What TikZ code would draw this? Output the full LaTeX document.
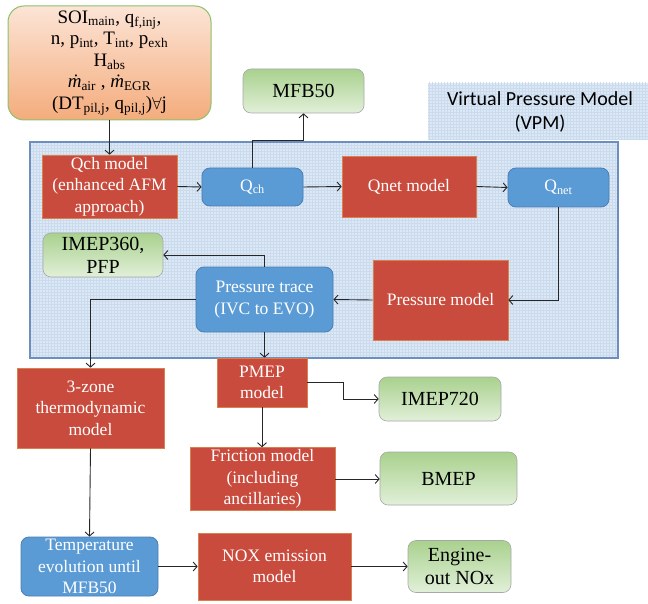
\documentclass[tikz,border=0pt]{standalone}
\usepackage{fontspec}
\setmainfont{Liberation Serif}
\newfontfamily\labelsans{Carlito}
\usetikzlibrary{arrows.meta,patterns}

\definecolor{redbox}{HTML}{C84B3D}
\definecolor{redline}{HTML}{D9804F}
\definecolor{bluebox}{HTML}{5B9BD5}
\definecolor{blueline}{HTML}{4A7EB5}
\definecolor{greentop}{HTML}{A9D18E}
\definecolor{greenbot}{HTML}{E2F0D9}
\definecolor{greenline}{HTML}{A8A8A8}
\definecolor{peachtop}{HTML}{FCE4D6}
\definecolor{peachbot}{HTML}{F4AC7C}
\definecolor{inputline}{HTML}{8CC06A}
\definecolor{vpmfill}{HTML}{DCE8F5}
\definecolor{vpmgrid}{HTML}{CADBEE}
\definecolor{vpmline}{HTML}{6D8FBD}
\definecolor{wire}{HTML}{262626}

\tikzset{
  model/.style={draw=redline, line width=0.6pt, fill=redbox, text=white,
    align=center, inner sep=2pt, font=\rmfamily\fontsize{17.5}{21.5}\selectfont},
  signal/.style={draw=blueline, line width=0.8pt, fill=bluebox, text=white,
    rounded corners=8pt, align=center, inner sep=2pt,
    font=\rmfamily\fontsize{17.5}{21.5}\selectfont},
  output/.style={draw=greenline, line width=0.6pt, top color=greentop,
    bottom color=greenbot, rounded corners=8pt, align=center, inner sep=2pt,
    font=\rmfamily\fontsize{20}{23}\selectfont},
  inputs/.style={draw=inputline, line width=1pt, top color=peachtop,
    bottom color=peachbot, rounded corners=16pt, align=center, inner sep=2pt,
    font=\rmfamily\fontsize{19}{21.6}\selectfont},
  flow/.style={draw=wire, line width=0.9pt, -{Straight Barb[length=4pt,width=9pt]}},
}

\newcommand{\sub}[1]{\textsubscript{#1}}

\begin{document}
\begin{tikzpicture}[x=1pt, y=-1pt]
\useasboundingbox (0,0) rectangle (648,604);

% Virtual Pressure Model area and its caption panel
\fill[vpmfill] (428,83) rectangle (648,140);
\fill[pattern=grid, pattern color=vpmgrid] (428,83) rectangle (648,140);
\fill[vpmfill] (30,142) rectangle (618,358);
\fill[pattern=grid, pattern color=vpmgrid] (30,142) rectangle (618,358);
\draw[vpmline, line width=1.3pt] (30,142) rectangle (618,358);
\node[font=\labelsans\fontsize{20}{24.5}\selectfont, align=center] (vpmlabel) at (540,112)
  {Virtual Pressure Model\\(VPM)};

% inputs
\node[inputs, minimum width=203pt, minimum height=114pt] (in) at (109.5,63)
  {SOI\sub{main}, q\sub{f,inj},\\
   n, p\sub{int}, T\sub{int}, p\sub{exh}\\
   H\sub{abs}\\
   \textit{ṁ}\sub{air} , \textit{ṁ}\sub{EGR}\\
   (DT\sub{pil,j}, q\sub{pil,j})$\forall$j};

% heat release chain
\node[model, minimum width=135pt, minimum height=63pt] (qchm) at (109.5,186.5)
  {Qch model\\(enhanced AFM\\approach)};
\node[signal, minimum width=101pt, minimum height=38pt] (qch) at (252.5,187) {Q\sub{ch}};
\node[model, minimum width=134pt, minimum height=61pt] (qnetm) at (409,186.5) {Qnet model};
\node[signal, minimum width=101pt, minimum height=39pt] (qnet) at (558.5,187.5) {Q\sub{net}};
\node[output, minimum width=121pt, minimum height=44pt] (mfb) at (303.5,91) {MFB50};

% pressure
\node[model, minimum width=135pt, minimum height=80pt] (pm) at (440.5,300) {Pressure model};
\node[signal, minimum width=137pt, minimum height=65pt] (pt) at (264.5,299.5)
  {Pressure trace\\(IVC to EVO)};
\node[output, minimum width=120pt, minimum height=44pt] (imep360) at (103,255)
  {IMEP360,\\PFP};

% downstream models
\node[model, minimum width=147pt, minimum height=80pt] (zone) at (90.5,408)
  {3-zone\\thermodynamic\\model};
\node[model, minimum width=90pt, minimum height=49pt] (pmep) at (262,382.5) {PMEP\\model};
\node[output, minimum width=122pt, minimum height=44pt] (imep720) at (440,399) {IMEP720};
\node[model, minimum width=145pt, minimum height=62pt] (fric) at (262.5,479)
  {Friction model\\(including\\ancillaries)};
\node[output, minimum width=137pt, minimum height=53pt] (bmep) at (448.5,478.5) {BMEP};
\node[signal, minimum width=137pt, minimum height=59pt] (temp) at (89.5,566.5)
  {Temperature\\evolution until\\MFB50};
\node[model, minimum width=153pt, minimum height=67pt] (nox) at (274.5,566.5)
  {NOX emission\\model};
\node[output, minimum width=103pt, minimum height=52pt] (eng) at (459.5,566.5)
  {Engine-\\out NOx};

% connectors
\draw[flow] (in.south) -- (qchm.north);
\draw[flow] (qchm.east) -- (qch.west);
\draw[flow] (qch.east) -- (qnetm.west);
\draw[flow] (qnetm.east) -- (qnet.west);
\coordinate (mfbturn) at (252.5,140);
\draw[flow] (qch.north) -- (mfbturn) -| (mfb.south);
\draw[flow] (qnet.south) |- (pm.east);
\draw[flow] (pm.west) -- (pt.east);
\draw[flow] (pt.north) |- (imep360.east);
\draw[flow] (pt.west) -| (zone.north);
\draw[flow] (pt.south) -- (pt.south |- pmep.north);
\coordinate (pmepturn) at (343,382.5);
\draw[flow] (pmep.east) -- (pmepturn) |- (imep720.west);
\draw[flow] (pmep.south) -- (pmep.south |- fric.north);
\draw[flow] (fric.east) -- (fric.east -| bmep.west);
\draw[flow] (zone.south) -- (temp.north);
\draw[flow] (temp.east) -- (nox.west);
\draw[flow] (nox.east) -- (eng.west);
\end{tikzpicture}
\end{document}
